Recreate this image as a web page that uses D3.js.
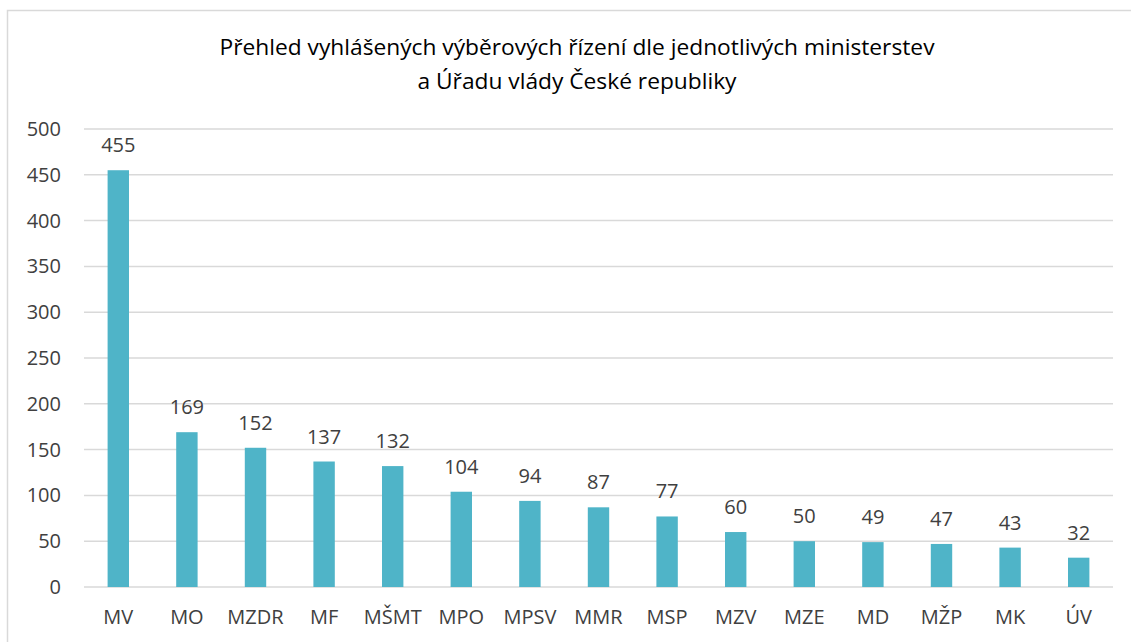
<!DOCTYPE html>
<html>
<head>
<meta charset="utf-8">
<script src="https://cdn.jsdelivr.net/npm/d3@7"></script>
<style>
  body { margin: 0; background: #fff; }
  svg { display: block; }
</style>
</head>
<body>
<svg width="1131" height="642"></svg>
<script>
// data
const ministries = ['MV', 'MO', 'MZDR', 'MF', 'MŠMT', 'MPO', 'MPSV', 'MMR', 'MSP', 'MZV', 'MZE', 'MD', 'MŽP', 'MK', 'ÚV'];
const counts = [455, 169, 152, 137, 132, 104, 94, 87, 77, 60, 50, 49, 47, 43, 32];
const yTicks = [0, 50, 100, 150, 200, 250, 300, 350, 400, 450, 500];
const titleLines = ['Přehled vyhlášených výběrových řízení dle jednotlivých ministerstev', 'a Úřadu vlády České republiky'];
const titleWidths = [715, 319];

const svg = d3.select('svg');
const margin = {left: 84, right: 18, top: 129, bottom: 55};
const W = 1131, H = 642;
const font = 'Open Sans, sans-serif';

// chart frame
svg.append('rect')
  .attr('x', 7.5).attr('y', 10.5)
  .attr('width', 1140).attr('height', 660)
  .attr('fill', 'none').attr('stroke', '#d9d9d9').attr('stroke-width', 1.5);

const x = d3.scaleBand()
  .domain(ministries)
  .range([margin.left, W - margin.right])
  .paddingInner(0.688)
  .paddingOuter(0.344);

const y = d3.scaleLinear()
  .domain([0, 500])
  .range([H - margin.bottom, margin.top]);

// gridlines
svg.append('g')
  .selectAll('line')
  .data(yTicks)
  .enter().append('line')
  .attr('x1', margin.left).attr('x2', W - margin.right)
  .attr('y1', d => y(d)).attr('y2', d => y(d))
  .attr('stroke', '#d9d9d9').attr('stroke-width', 1.5);

// y axis labels
const yAxis = svg.append('g')
  .attr('transform', `translate(${margin.left},0)`)
  .call(d3.axisLeft(y).tickValues(yTicks).tickSize(0).tickPadding(23));
yAxis.select('.domain').remove();
yAxis.selectAll('text')
  .attr('font-family', font)
  .attr('font-size', 20)
  .attr('fill', '#404040');

// bars
svg.append('g')
  .selectAll('rect')
  .data(counts)
  .enter().append('rect')
  .attr('x', (d, i) => x(ministries[i]))
  .attr('y', d => y(d))
  .attr('width', x.bandwidth())
  .attr('height', d => y(0) - y(d))
  .attr('fill', '#4fb4c8');

// value labels
svg.append('g')
  .selectAll('text')
  .data(counts)
  .enter().append('text')
  .attr('x', (d, i) => x(ministries[i]) + x.bandwidth() / 2)
  .attr('y', d => y(d) - 18)
  .attr('text-anchor', 'middle')
  .attr('font-family', font)
  .attr('font-size', 20)
  .attr('fill', '#404040')
  .text(d => d);

// x axis labels
const xAxis = svg.append('g')
  .attr('transform', `translate(0,${y(0)})`)
  .call(d3.axisBottom(x).tickSize(0).tickPadding(23));
xAxis.select('.domain').remove();
xAxis.selectAll('text')
  .attr('font-family', font)
  .attr('font-size', 20)
  .attr('fill', '#404040');

// title
svg.append('g')
  .selectAll('text')
  .data(titleLines)
  .enter().append('text')
  .attr('x', 577)
  .attr('y', (d, i) => 55 + i * 34)
  .attr('text-anchor', 'middle')
  .attr('font-family', font)
  .attr('font-size', 22)
  .attr('textLength', (d, i) => titleWidths[i])
  .attr('lengthAdjust', 'spacingAndGlyphs')
  .attr('fill', '#000')
  .text(d => d);
</script>
</body>
</html>
